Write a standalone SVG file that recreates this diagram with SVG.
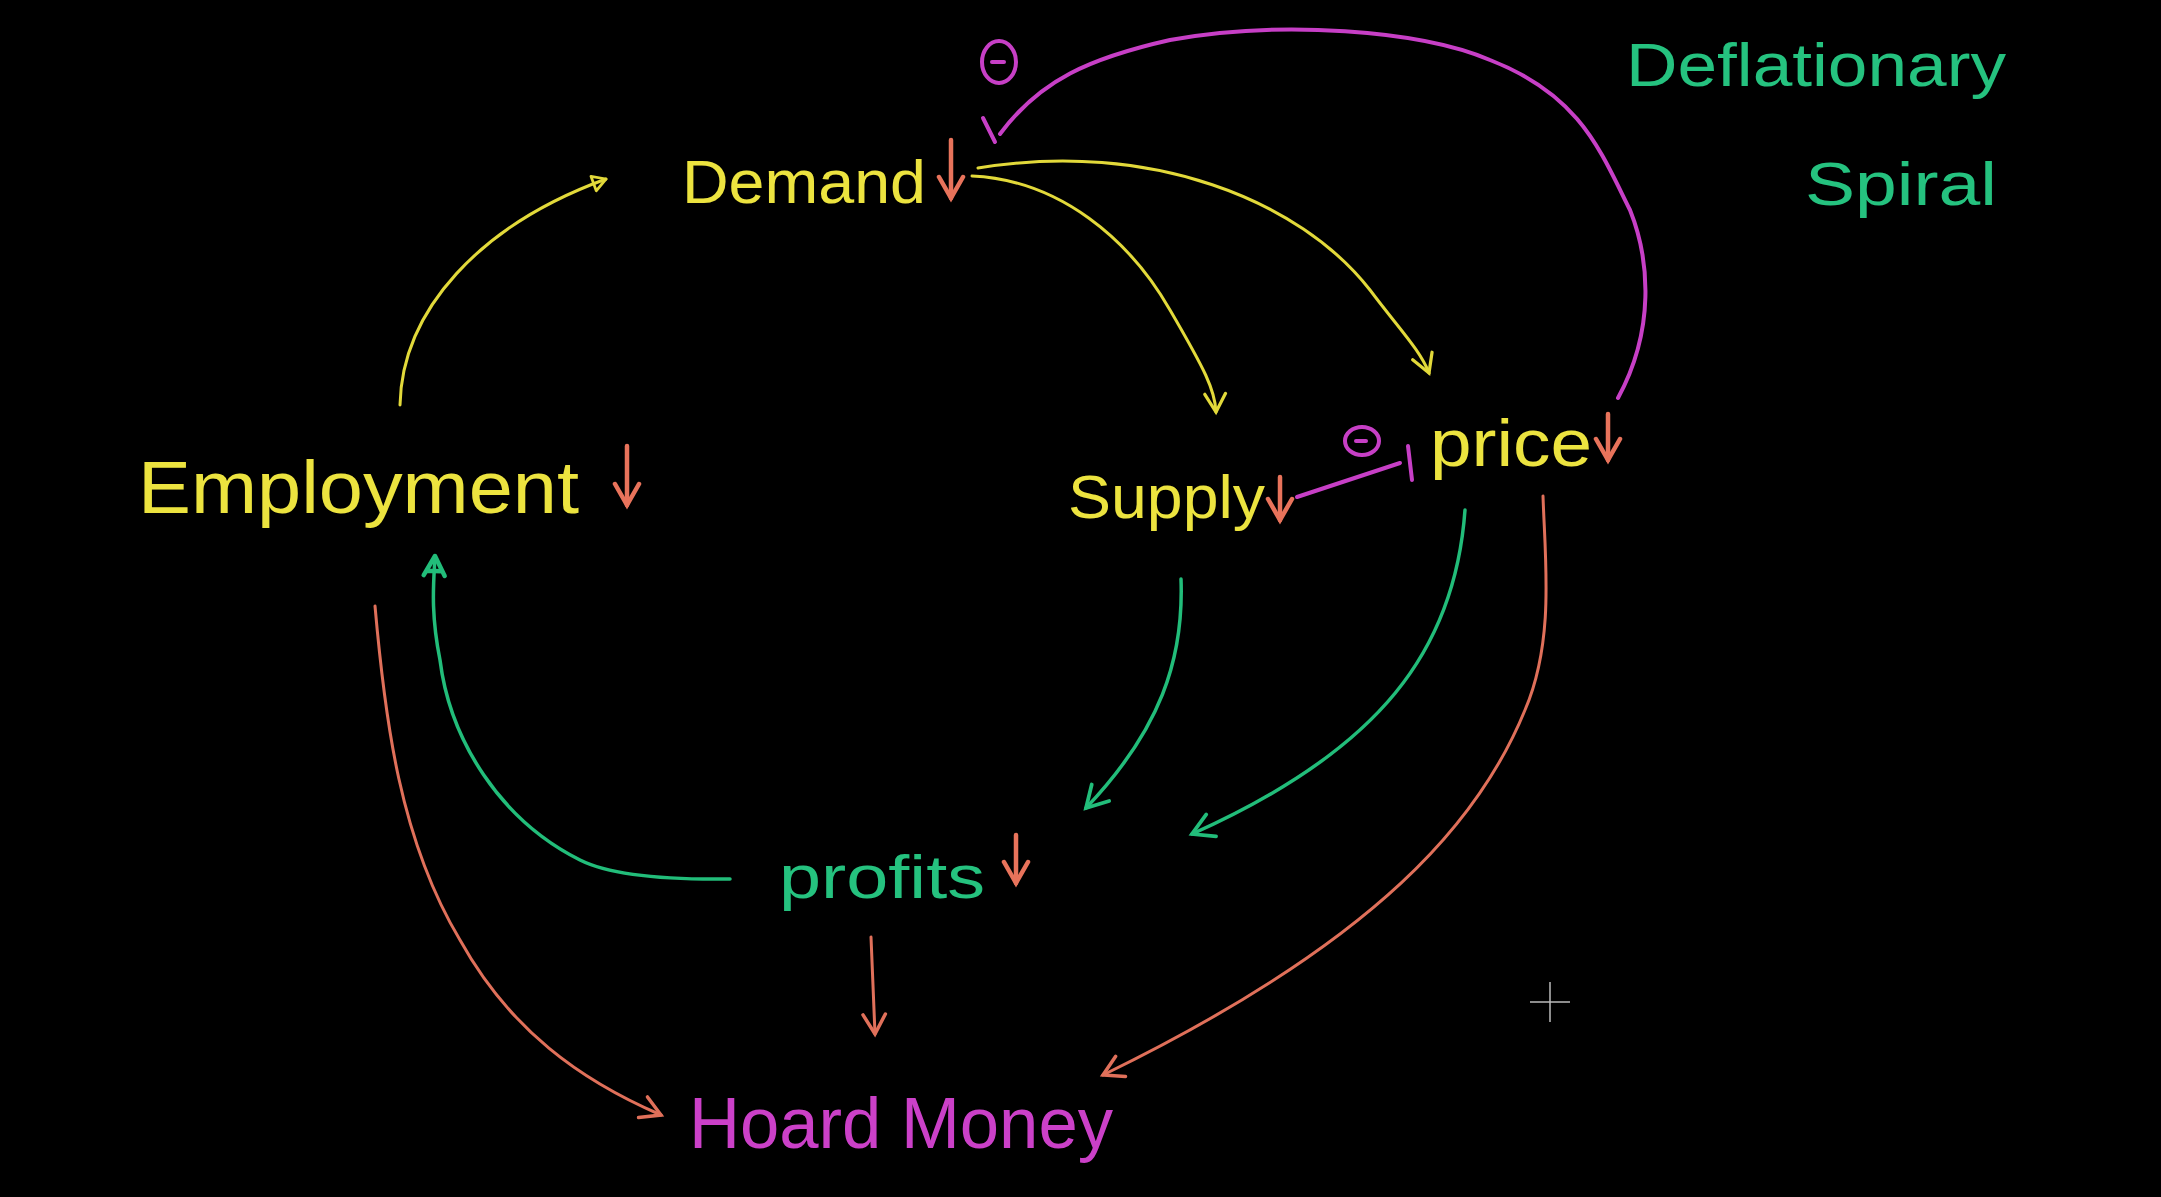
<svg xmlns="http://www.w3.org/2000/svg" width="2161" height="1197" viewBox="0 0 2161 1197">
<style>
text{font-family:"Liberation Sans","Open Sans",sans-serif;}
.y{fill:#ece33f;} .r{fill:#e8735b;} .m{fill:#cb40c8;} .g{fill:#25c27f;}
.ly{stroke:#e2d93a;fill:none;stroke-width:3;stroke-linecap:round;}
.lr{stroke:#e0705a;fill:none;stroke-width:3;stroke-linecap:round;}
.lm{stroke:#c73fc6;fill:none;stroke-width:4;stroke-linecap:round;}
.lg{stroke:#22bd7a;fill:none;stroke-width:3.5;stroke-linecap:round;}
.dn{stroke:#e8735b;fill:none;stroke-width:4.5;stroke-linecap:round;}
</style>
<defs>
<marker id="vY" viewBox="0 0 20 20" refX="17" refY="10" markerWidth="26" markerHeight="26" orient="auto" markerUnits="userSpaceOnUse"><path d="M3,2 L17,10 L3,18" fill="none" stroke="#e2d93a" stroke-width="2.5" stroke-linecap="round"/></marker>
<marker id="vR" viewBox="0 0 20 20" refX="17" refY="10" markerWidth="28" markerHeight="28" orient="auto" markerUnits="userSpaceOnUse"><path d="M3,2 L17,10 L3,18" fill="none" stroke="#e0705a" stroke-width="2.5" stroke-linecap="round"/></marker>
<marker id="vRb" viewBox="0 0 20 20" refX="17" refY="10" markerWidth="30" markerHeight="30" orient="auto" markerUnits="userSpaceOnUse"><path d="M3,2 L17,10 L3,18" fill="none" stroke="#e8735b" stroke-width="3" stroke-linecap="round"/></marker>
<marker id="vG" viewBox="0 0 20 20" refX="17" refY="10" markerWidth="30" markerHeight="30" orient="auto" markerUnits="userSpaceOnUse"><path d="M3,2 L17,10 L3,18" fill="none" stroke="#22bd7a" stroke-width="2.5" stroke-linecap="round"/></marker>
<marker id="tY" viewBox="0 0 20 20" refX="16" refY="10" markerWidth="22" markerHeight="22" orient="auto" markerUnits="userSpaceOnUse"><path d="M4,3 L16,10 L4,17 Z" fill="none" stroke="#e2d93a" stroke-width="2.5" stroke-linejoin="round"/></marker>
<marker id="tG" viewBox="0 0 20 20" refX="16" refY="10" markerWidth="30" markerHeight="30" orient="auto" markerUnits="userSpaceOnUse"><path d="M3,3 L16,10 L3,17 M6,5 L6,15" fill="none" stroke="#22bd7a" stroke-width="3" stroke-linejoin="round" stroke-linecap="round"/></marker>
</defs>
<rect width="2161" height="1197" fill="#000"/>

<g id="connectors">
  <path class="ly" d="M400,405 C402,310 480,225 606,179" marker-end="url(#tY)"/>
  <path class="ly" d="M972,176 C1060,180 1130,240 1170,310 C1205,370 1215,390 1216,412" marker-end="url(#vY)"/>
  <path class="ly" d="M978,168 C1150,140 1300,200 1370,290 C1400,330 1420,350 1429,373" marker-end="url(#vY)"/>
  <path class="lm" d="M1000,134 C1040,80 1090,58 1170,40 C1280,20 1420,30 1490,60 C1580,95 1600,150 1630,210 C1650,260 1655,330 1618,398"/>
  <path class="lm" d="M983,118 L995,142"/>
  <path class="lm" d="M1297,497 L1400,463"/>
  <path class="lm" d="M1408,446 L1412,480"/>
  <path class="lg" d="M1181,579 C1184,660 1160,730 1086,808" marker-end="url(#vG)"/>
  <path class="lg" d="M1465,510 C1455,650 1380,750 1192,834" marker-end="url(#vG)"/>
  <path class="lg" d="M730,879 C660,880 610,875 580,860 C500,820 450,740 440,660 C430,610 434,580 435,556" marker-end="url(#tG)"/>
  <path class="lr" d="M1543,496 C1545,560 1555,640 1525,710 C1480,820 1380,940 1103,1075" marker-end="url(#vR)"/>
  <path class="lr" d="M871,937 L875,1034" marker-end="url(#vR)"/>
  <path class="lr" d="M375,606 C385,720 400,840 460,940 C510,1030 580,1080 661,1115" marker-end="url(#vR)"/>
</g>

<g id="demand">
  <text class="y" x="682" y="203" font-size="62" textLength="244" lengthAdjust="spacingAndGlyphs">Demand</text>
  <path class="dn" d="M951,140 L951,198" marker-end="url(#vRb)"/>
</g>
<g id="demand-minus">
  <ellipse cx="999" cy="62" rx="17" ry="21" fill="none" stroke="#c73fc6" stroke-width="4"/>
  <line x1="992" y1="62" x2="1004" y2="62" stroke="#c73fc6" stroke-width="4" stroke-linecap="round"/>
</g>
<g id="employment">
  <text class="y" x="138" y="513" font-size="74" textLength="441" lengthAdjust="spacingAndGlyphs">Employment</text>
  <path class="dn" d="M627,446 L627,505" marker-end="url(#vRb)"/>
</g>
<g id="supply">
  <text class="y" x="1068" y="518" font-size="62" textLength="197" lengthAdjust="spacingAndGlyphs">Supply</text>
  <path class="dn" d="M1280,477 L1280,520" marker-end="url(#vRb)"/>
</g>
<g id="supply-minus">
  <ellipse cx="1362" cy="441" rx="17" ry="14" fill="none" stroke="#c73fc6" stroke-width="4"/>
  <line x1="1356" y1="441" x2="1366" y2="441" stroke="#c73fc6" stroke-width="4" stroke-linecap="round"/>
</g>
<g id="price">
  <text class="y" x="1430" y="466" font-size="66" textLength="162" lengthAdjust="spacingAndGlyphs">price</text>
  <path class="dn" d="M1608,414 L1608,460" marker-end="url(#vRb)"/>
</g>
<g id="profits">
  <text class="g" x="779" y="898" font-size="62" textLength="206" lengthAdjust="spacingAndGlyphs">profits</text>
  <path class="dn" d="M1016,835 L1016,883" marker-end="url(#vRb)"/>
</g>
<g id="hoard-money">
  <text class="m" x="689" y="1148" font-size="72" textLength="424" lengthAdjust="spacingAndGlyphs">Hoard Money</text>
</g>
<g id="title">
  <text class="g" x="1626" y="86" font-size="62" textLength="380" lengthAdjust="spacingAndGlyphs">Deflationary</text>
  <text class="g" x="1805" y="205" font-size="62" textLength="192" lengthAdjust="spacingAndGlyphs">Spiral</text>
</g>
<g id="cursor" stroke="#bbb" stroke-width="1.5">
  <line x1="1550" y1="982" x2="1550" y2="1022"/>
  <line x1="1530" y1="1002" x2="1570" y2="1002"/>
</g>
</svg>
